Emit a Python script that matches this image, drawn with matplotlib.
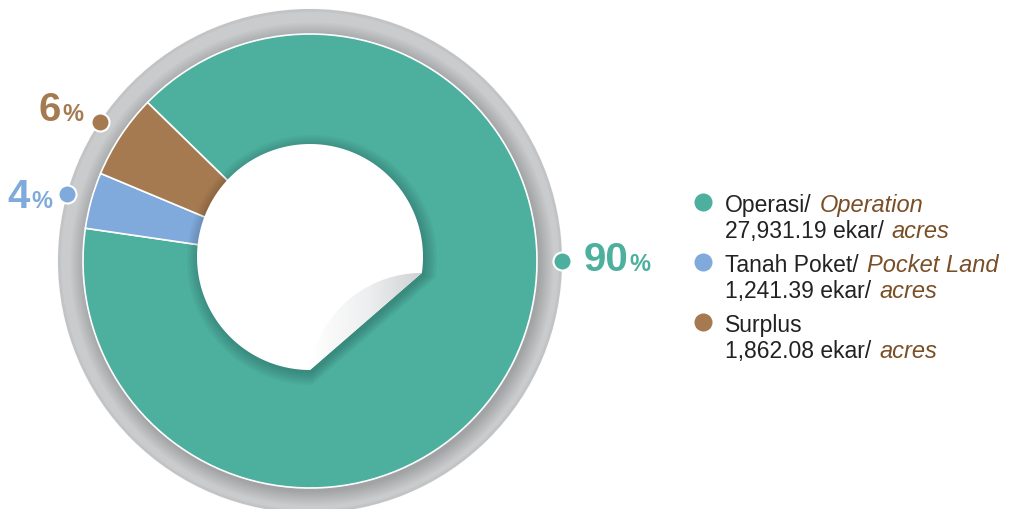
import numpy as np
import matplotlib.pyplot as plt
from matplotlib.patches import Circle, Polygon
from matplotlib.colors import LinearSegmentedColormap

# data
names_ms = ['Operasi/', 'Tanah Poket/', 'Surplus']
names_en = ['Operation', 'Pocket Land', '']
acres = [27931.19, 1241.39, 1862.08]
colors = ['#4daf9d', '#80aadb', '#a67a50']
unit_ms = 'ekar/'
unit_en = 'acres'

W, H = 1015, 510
FONT = 'Liberation Sans'
EN_COLOR = '#7a4e26'


def Y(y):
    # pixel row -> data y
    return H - y


fig = plt.figure(figsize=(W / 100, H / 100), dpi=100)
ax = fig.add_axes([0, 0, 1, 1])

cx, cy = 310, Y(262)
r_gray, r_pie = 252, 227

# grey outer ring with soft shadow from the pie
ax.add_patch(Circle((cx, cy), r_gray, color='#cacbcd', lw=0, zorder=1))
for k in range(4):
    ax.add_patch(Circle((cx, cy), r_gray - k * 0.8, fill=False, ec='#000000',
                        lw=1.0, alpha=0.02, zorder=1))
for k in range(10):
    ax.add_patch(Circle((cx + 2, cy - 3), r_pie + 1 + k * 1.5, color='black',
                        alpha=0.018, lw=0, zorder=1))

wedges, _ = ax.pie(acres, colors=colors, startangle=135.7, counterclock=False,
                   radius=r_pie, center=(cx, cy),
                   wedgeprops=dict(edgecolor='white', linewidth=1.2))
for w in wedges:
    w.set_zorder(2)

# white centre with a peeled corner
icx, icy, r_in = 310, Y(258), 113
a0, a1 = np.deg2rad(-8.1), np.deg2rad(-90)
th = np.linspace(a0, a1 + 2 * np.pi, 300)
body = np.column_stack([icx + r_in * np.cos(th), icy + r_in * np.sin(th)])

# shadow under the sticker
for k in range(10):
    s = 1 + k * 0.012
    pts = np.column_stack([icx + (body[:, 0] - icx) * s + 2,
                           icy + (body[:, 1] - icy) * s - 3])
    ax.add_patch(Polygon(pts, closed=True, color='black', alpha=0.02, lw=0, zorder=3))

ax.add_patch(Polygon(body, closed=True, color='white', lw=0, zorder=4))

# folded flap = cut segment mirrored across the chord
seg_t = np.linspace(a1, a0, 100)
seg = np.column_stack([icx + r_in * np.cos(seg_t), icy + r_in * np.sin(seg_t)])
p, q = seg[0], seg[-1]
d = (q - p) / np.linalg.norm(q - p)
rel = seg - p
proj = np.outer(rel @ d, d)
flap = p + 2 * proj - rel
flap_patch = Polygon(flap, closed=True, fc='none', lw=0, zorder=5)
ax.add_patch(flap_patch)
grad = np.linspace(0, 1, 256).reshape(1, -1)
cmap = LinearSegmentedColormap.from_list('curl', ['#ffffff', '#eeeff0', '#cfd0d3'])
im = ax.imshow(grad, cmap=cmap, extent=(p[0], q[0] + 2, p[1], q[1]), aspect='auto',
               zorder=5, interpolation='bilinear')
im.set_clip_path(flap_patch)

ax.set_xlim(0, W)
ax.set_ylim(0, H)
ax.set_aspect('equal', adjustable='box')
ax.axis('off')

# percentage labels
total = sum(acres)
pct = [round(v / total * 100) for v in acres]
label_angles = [0.0, None, None]
num_anchor = [(628, 271), (30, 208), (61, 121)]
for i, w in enumerate(wedges):
    ang = label_angles[i]
    if ang is None:
        ang = (w.theta1 + w.theta2) / 2
    ang = np.deg2rad(ang)
    ax.plot(cx + r_gray * np.cos(ang), cy + r_gray * np.sin(ang), 'o', ms=13,
            color=colors[i], mec='white', mew=1.5, zorder=6)
    nx, ny = num_anchor[i]
    ax.text(nx, Y(ny), str(pct[i]), color=colors[i], fontsize=29, fontweight='bold',
            family=FONT, ha='right', va='baseline', zorder=6)
    ax.text(nx + 1, Y(ny), '%', color=colors[i], fontsize=17, fontweight='bold',
            family=FONT, ha='left', va='baseline', zorder=6)

# legend
renderer = fig.canvas.get_renderer()


def two_part(x, y, first, second, size=16.5):
    t = ax.text(x, y, first, color='#222222', fontsize=size, family=FONT,
                ha='left', va='baseline')
    if second:
        bb = t.get_window_extent(renderer)
        x2 = ax.transData.inverted().transform((bb.x1, 0))[0] + 8
        ax.text(x2, y, second, color=EN_COLOR, fontsize=size + 0.5, family=FONT,
                style='italic', ha='left', va='baseline')


base = 212
for i in range(len(acres)):
    y0 = base + i * 60
    ax.plot(703, Y(y0 - 9), 'o', ms=13, color=colors[i], mew=0)
    two_part(725, Y(y0), names_ms[i], names_en[i])
    two_part(725, Y(y0 + 26), f'{acres[i]:,.2f} {unit_ms}', unit_en)

fig.savefig('out.png', dpi=100)
